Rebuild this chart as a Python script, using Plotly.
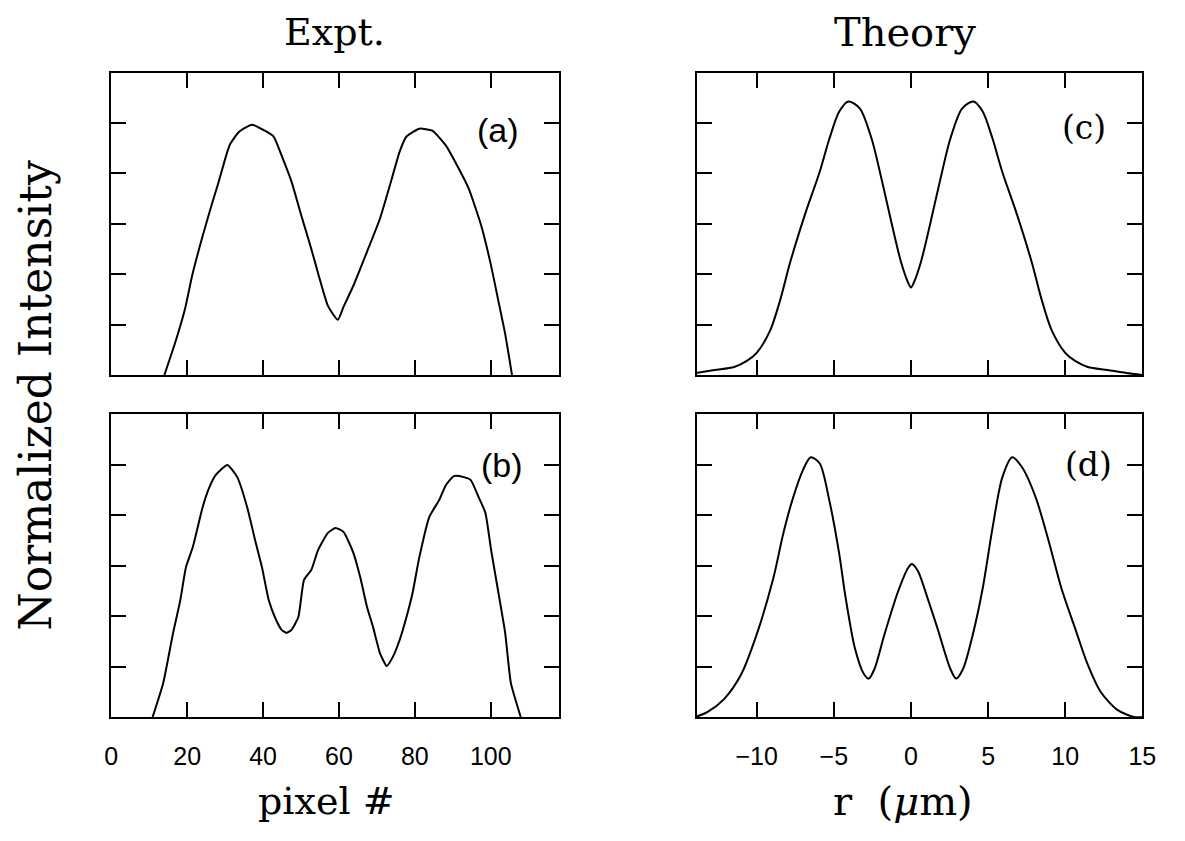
import plotly.graph_objects as go

# ---------------- data ----------------
# (a) experiment, two-lobed profile
a_x = [14.0, 16.9, 19.5, 21.3, 24.1, 26.7, 28.0, 30.6, 31.4, 33.7, 37.1, 40.5, 42.8, 44.9,
       47.5, 50.1, 52.7, 54.7, 57.1, 59.7, 61.2, 63.8, 67.4, 70.8, 73.4, 76.0, 77.8, 81.2,
       84.6, 88.2, 91.6, 94.2, 97.5, 100.1, 101.9, 103.8, 105.6]
a_y = [0.0, 0.131, 0.266, 0.393, 0.552, 0.687, 0.751, 0.886, 0.918, 0.965, 0.993, 0.969,
       0.946, 0.870, 0.767, 0.632, 0.501, 0.393, 0.274, 0.219, 0.270, 0.354, 0.489, 0.620,
       0.751, 0.886, 0.946, 0.977, 0.969, 0.910, 0.818, 0.739, 0.592, 0.433, 0.302, 0.163, 0.0]

# (b) experiment, three-lobed profile
b_x = [10.9, 13.7, 16.3, 18.2, 19.7, 21.5, 24.1, 25.9, 27.5, 30.6, 33.2, 35.8, 37.9, 39.7,
       41.5, 43.1, 44.9, 46.2, 47.5, 49.3, 50.8, 52.7, 54.5, 57.1, 59.1, 61.2, 63.8, 65.6,
       67.4, 69.0, 70.8, 72.6, 74.2, 76.0, 77.8, 79.4, 81.2, 83.8, 86.4, 88.2, 90.3, 92.9,
       94.7, 96.8, 98.6, 100.1, 101.9, 103.8, 105.3, 107.9]
b_y = [0.0, 0.135, 0.333, 0.463, 0.594, 0.673, 0.832, 0.911, 0.958, 0.998, 0.950, 0.832,
       0.701, 0.594, 0.463, 0.396, 0.345, 0.333, 0.345, 0.396, 0.543, 0.582, 0.661, 0.729,
       0.749, 0.733, 0.650, 0.554, 0.436, 0.356, 0.253, 0.202, 0.238, 0.305, 0.396, 0.491,
       0.634, 0.792, 0.859, 0.919, 0.954, 0.950, 0.939, 0.871, 0.808, 0.661, 0.503, 0.333,
       0.135, 0.0]

# (c) theory, two-lobed profile
c_x = [-13.95, -12.74, -11.46, -10.64, -10.0, -9.11, -8.47, -7.83, -6.82, -5.92, -5.29,
       -4.65, -4.05, -3.31, -2.55, -1.91, -1.27, -0.64, -0.19, 0.0, 0.19, 0.64, 1.27, 1.91,
       2.55, 3.31, 4.05, 4.65, 5.29, 5.92, 6.82, 7.83, 8.47, 9.11, 10.0, 10.64, 11.46,
       12.74, 13.95, 15.0]
c_y = [0.008, 0.020, 0.032, 0.056, 0.088, 0.179, 0.299, 0.447, 0.646, 0.805, 0.937, 1.045,
       1.085, 1.057, 0.937, 0.778, 0.606, 0.447, 0.367, 0.347, 0.367, 0.447, 0.606, 0.778,
       0.937, 1.057, 1.085, 1.045, 0.937, 0.805, 0.646, 0.447, 0.299, 0.179, 0.088, 0.056,
       0.032, 0.020, 0.008, 0.0]

# (d) theory, three-lobed profile
d_x = [-13.95, -13.18, -12.10, -11.02, -10.0, -8.92, -8.28, -7.64, -7.01, -6.50, -5.92,
       -5.29, -4.65, -4.27, -3.63, -3.06, -2.74, -2.36, -1.72, -0.83, -0.19, 0.06, 0.45,
       1.08, 1.72, 2.55, 2.93, 3.38, 4.01, 4.65, 5.29, 5.92, 6.56, 7.20, 8.09, 8.92, 9.75,
       10.64, 11.46, 12.29, 13.38, 14.46, 14.97]
d_y = [0.0, 0.020, 0.072, 0.167, 0.327, 0.550, 0.726, 0.869, 0.977, 1.029, 1.005, 0.857,
       0.646, 0.486, 0.271, 0.171, 0.152, 0.191, 0.327, 0.498, 0.590, 0.606, 0.578, 0.470,
       0.351, 0.191, 0.152, 0.191, 0.327, 0.510, 0.750, 0.949, 1.029, 0.989, 0.869, 0.698,
       0.510, 0.351, 0.207, 0.100, 0.028, 0.0, 0.0]

# axis ticks
pix_ticks = [0, 20, 40, 60, 80, 100]
pix_labels = ["0", "20", "40", "60", "80", "100"]
r_ticks = [-10, -5, 0, 5, 10, 15]
r_labels = ["\u221210", "\u22125", "0", "5", "10", "15"]
y_ticks = [0.2, 0.4, 0.6, 0.8, 1.0]

panel_labels = ["(a)", "(b)", "(c)", "(d)"]
col_titles = ["Expt.", "Theory"]
x_titles = ["pixel #", "r  (<i>\u03bc</i>m)"]
y_title = "Normalized Intensity"

# ---------------- figure ----------------
# page body has an 8px margin, so the figure is 16px smaller than the window
W, H = 1169, 825
OFF = 8
SERIF = "DejaVu Serif"
SANS = "Liberation Sans"


def px(v):
    return (v - OFF) / W


def py(v):
    return 1 - (v - OFF) / H


fig = go.Figure()
line = dict(color="black", width=2)
fig.add_trace(go.Scatter(x=a_x, y=a_y, mode="lines", line=dict(line, shape="spline", smoothing=0.5),
                         xaxis="x", yaxis="y", showlegend=False))
fig.add_trace(go.Scatter(x=c_x, y=c_y, mode="lines", line=dict(line, shape="spline", smoothing=0.8),
                         xaxis="x2", yaxis="y2", showlegend=False))
fig.add_trace(go.Scatter(x=b_x, y=b_y, mode="lines", line=dict(line, shape="spline", smoothing=0.5),
                         xaxis="x3", yaxis="y3", showlegend=False))
fig.add_trace(go.Scatter(x=d_x, y=d_y, mode="lines", line=dict(line, shape="spline", smoothing=0.8),
                         xaxis="x4", yaxis="y4", showlegend=False))

colL = [px(106), px(562)]
colR = [px(702), px(1156)]
row1 = [py(375), py(72.5)]
row2 = [py(717), py(414)]


def xax(dom, rng, ticks, labels, show, anchor):
    return dict(domain=dom, range=rng, anchor=anchor, tickmode="array", tickvals=ticks,
                ticktext=labels, showticklabels=show, ticks="inside", ticklen=15, tickwidth=1.5,
                tickcolor="black", mirror="ticks", showline=True, linecolor="black", linewidth=2,
                showgrid=False, zeroline=False, tickfont=dict(family=SANS, size=25, color="black"),
                ticklabelstandoff=16)


def yax(dom, anchor):
    return dict(domain=dom, range=[0, 1.2], anchor=anchor, tickmode="array", tickvals=y_ticks,
                showticklabels=False, ticks="inside", ticklen=15, tickwidth=1.5, tickcolor="black",
                mirror="ticks", showline=True, linecolor="black", linewidth=2, showgrid=False,
                zeroline=False)


fig.update_layout(
    width=W, height=H, margin=dict(l=0, r=0, t=0, b=0),
    paper_bgcolor="white", plot_bgcolor="white",
    xaxis=xax(colL, [0, 118], pix_ticks, pix_labels, False, "y"),
    yaxis=yax(row1, "x"),
    xaxis2=xax(colR, [-13.9, 15], r_ticks, r_labels, False, "y2"),
    yaxis2=yax(row1, "x2"),
    xaxis3=xax(colL, [0, 118], pix_ticks, pix_labels, True, "y3"),
    yaxis3=yax(row2, "x3"),
    xaxis4=xax(colR, [-13.9, 15], r_ticks, r_labels, True, "y4"),
    yaxis4=yax(row2, "x4"),
)


def note(text, x, y, size, fam=SERIF, xref="paper", yref="paper", angle=0):
    return dict(text=text, xref=xref, yref=yref, x=x, y=y, xanchor="center", yanchor="middle",
                showarrow=False, textangle=angle, font=dict(family=fam, size=size, color="black"))


ann = [
    note(panel_labels[0], 102, 0.97, 34, SANS, "x", "y"),
    note(panel_labels[1], 103, 1.0, 34, SANS, "x3", "y3"),
    note(panel_labels[2], 11.2, 0.98, 33, SERIF, "x2", "y2"),
    note(panel_labels[3], 11.5, 1.0, 33, SERIF, "x4", "y4"),
    note(col_titles[0], px(333), py(32), 38),
    note(col_titles[1], px(914), py(32), 40),
    note(x_titles[0], px(325), py(801), 38),
    note(x_titles[1], px(912), py(801), 40),
    note(y_title, px(28), py(395), 44, angle=-90),
]
fig.update_layout(annotations=ann)

fig.write_html("out.html")
